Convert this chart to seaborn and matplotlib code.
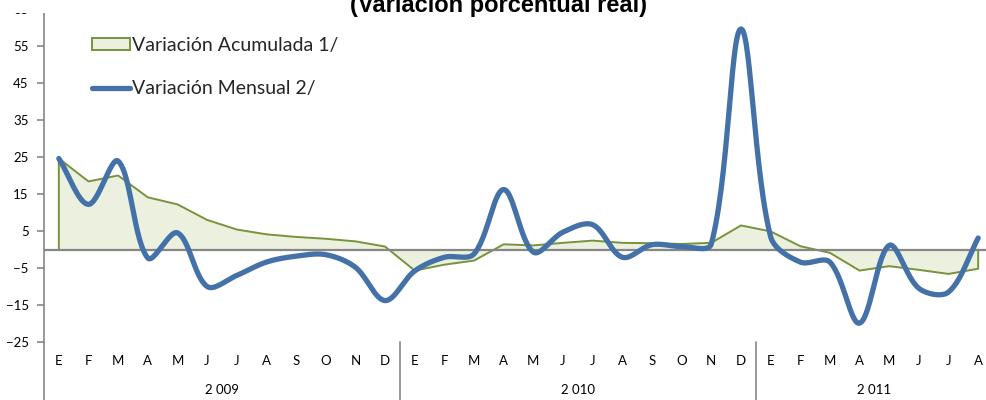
import numpy as np
import pandas as pd
import matplotlib.pyplot as plt
import seaborn as sns
from matplotlib.patches import Patch, Rectangle
from matplotlib.lines import Line2D
import matplotlib.transforms as mtransforms

# Data
meses = ["E", "F", "M", "A", "M", "J", "J", "A", "S", "O", "N", "D",
         "E", "F", "M", "A", "M", "J", "J", "A", "S", "O", "N", "D",
         "E", "F", "M", "A", "M", "J", "J", "A"]
anios = ["2 009", "2 010", "2 011"]
meses_por_anio = [12, 12, 8]

acumulada = [24.6, 18.4, 20.0, 14.1, 12.2, 8.0, 5.4, 4.1, 3.4, 2.9, 2.2, 0.8,
             -5.7, -4.1, -3.0, 1.4, 1.1, 1.8, 2.4, 1.8, 1.7, 1.5, 1.8, 6.5,
             4.9, 0.9, -0.9, -5.7, -4.5, -5.5, -6.6, -5.2]
mensual = [24.6, 12.2, 23.9, -2.3, 4.5, -10.0, -7.0, -3.4, -1.8, -1.4, -4.8, -13.8,
           -5.8, -2.1, -1.2, 16.2, -0.7, 4.7, 6.7, -2.1, 1.3, 0.8, 1.5, 59.6,
           3.5, -3.4, -3.4, -19.9, 1.1, -10.5, -11.5, 3.1]

titulo = "(Variación porcentual real)"
lbl_acum = "Variación Acumulada 1/"
lbl_mens = "Variación Mensual 2/"

VERDE_FILL = "#EBF1DE"
VERDE_EDGE = "#77933C"
AZUL = "#4472A8"
GRIS = "#868686"


# Excel style smoothed line: bezier segments, control arms scaled by
# segment length (measured with the on-screen aspect of the axes)
def suavizar(y, aspecto, n=30, f=1 / 3):
    y = np.asarray(y, float)
    x = np.arange(len(y), dtype=float)
    P = np.column_stack([x, y])
    P = np.vstack([P[:1], P, P[-1:]])
    esc = np.array([1.0, aspecto])

    def dist(a, b):
        return np.hypot(*((a - b) * esc))

    t = np.linspace(0, 1, n, endpoint=False)[:, None]
    pts = []
    for i in range(1, len(P) - 2):
        p0, p1, p2, p3 = P[i - 1], P[i], P[i + 1], P[i + 2]
        d01, d12, d23 = dist(p0, p1), dist(p1, p2), dist(p2, p3)
        f1 = f * d12 / (d01 + d12) if d01 + d12 > 0 else 0
        f2 = f * d12 / (d12 + d23) if d12 + d23 > 0 else 0
        c1 = p1 + (p2 - p0) * f1
        c2 = p2 - (p3 - p1) * f2
        seg = ((1 - t) ** 3) * p1 + 3 * ((1 - t) ** 2) * t * c1 + 3 * (1 - t) * t ** 2 * c2 + t ** 3 * p2
        pts.append(seg)
    pts.append(P[-2:-1])
    pts = np.vstack(pts)
    return pts[:, 0], pts[:, 1]


sns.set_style("white")
plt.rcParams['font.family'] = ['Lato', 'DejaVu Sans']

fig = plt.figure(figsize=(9.86, 4.0), dpi=100)
ax = fig.add_axes([44 / 986, 58 / 400, 949 / 986, 333 / 400])

n = len(meses)
x = np.arange(n)

# area (acumulada)
ax.fill_between(x, 0, acumulada, color=VERDE_FILL, lw=0, zorder=1)
borde = pd.DataFrame({"x": np.concatenate([[0], x, [n - 1]]),
                      "y": np.concatenate([[0], acumulada, [0]])})
sns.lineplot(data=borde, x="x", y="y", sort=False, estimator=None,
             color=VERDE_EDGE, lw=1.4, ax=ax, zorder=2)

# zero axis line
ax.axhline(0, color=GRIS, lw=1.6, zorder=3)

# smoothed monthly line
px_x = 949 / n
px_y = 333 / 90
sx, sy = suavizar(mensual, px_y / px_x)
curva = pd.DataFrame({"x": sx, "y": sy})
sns.lineplot(data=curva, x="x", y="y", sort=False, estimator=None,
             color=AZUL, lw=3.8, ax=ax, zorder=4)

ax.set_xlim(-0.5, n - 0.5)
ax.set_ylim(-25, 65)
ax.set_yticks(np.arange(-25, 66, 10))
ax.set_xticks([])
ax.set_xlabel("")
ax.set_ylabel("")
for s in ["top", "right", "bottom"]:
    ax.spines[s].set_visible(False)
ax.spines["left"].set_color(GRIS)
ax.spines["left"].set_linewidth(1.2)
ax.tick_params(axis="y", length=5, width=1.2, color=GRIS, labelsize=9.5,
               labelcolor="#000000", pad=6, left=True)

# category labels (two levels)
trans = mtransforms.blended_transform_factory(ax.transData, ax.transAxes)
for i, m in enumerate(meses):
    ax.text(i, -0.057, m, transform=trans, ha="center", va="center",
            fontsize=9.5, color="#000000")
inicio = 0
for anio, k in zip(anios, meses_por_anio):
    ax.text(inicio + (k - 1) / 2, -0.145, anio, transform=trans, ha="center",
            va="center", fontsize=9.5, color="#000000")
    inicio += k
lim = -0.5
for k in [0] + meses_por_anio:
    lim += k
    ax.plot([lim, lim], [0, -0.2], transform=trans, color=GRIS, lw=1.2,
            clip_on=False)

# legend
handles = [Patch(facecolor=VERDE_FILL, edgecolor=VERDE_EDGE, lw=1.4),
           Line2D([0], [0], color=AZUL, lw=3.8)]
fig.legend(handles, [lbl_acum, lbl_mens], loc="upper left",
           bbox_to_anchor=(92 / 986, 1 - 37 / 400), frameon=False,
           fontsize=14, handlelength=1.95, handleheight=0.6,
           handletextpad=0.12, labelspacing=1.36, borderpad=0,
           borderaxespad=0)

# title area (chart is cut at the top)
fig.add_artist(Rectangle((0, 1 - 13 / 400), 1, 13 / 400, transform=fig.transFigure,
                         facecolor="white", edgecolor="none", zorder=5))
fig.text(499 / 986, 1 - 12 / 400, titulo, ha="center", va="baseline",
         fontsize=17, fontweight="bold", family="Liberation Sans",
         color="#000000", zorder=6)

fig.savefig("out.png", dpi=100)
